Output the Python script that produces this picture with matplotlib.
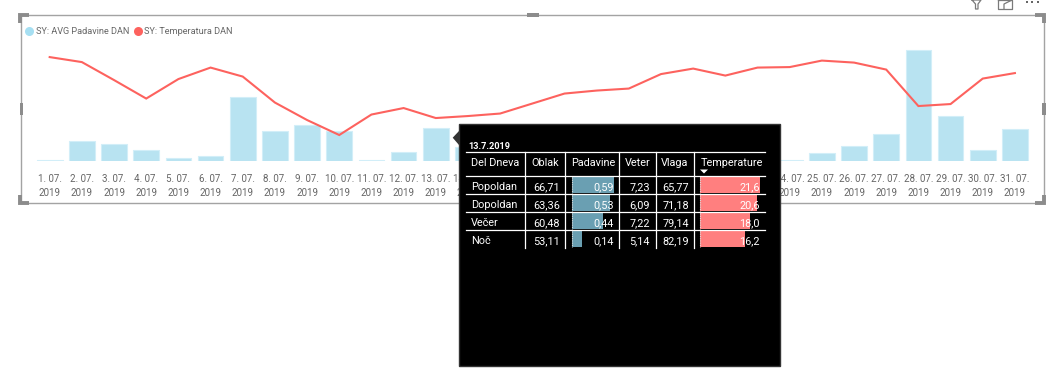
import matplotlib
matplotlib.use('Agg')
import matplotlib.pyplot as plt
from matplotlib.patches import Rectangle, Polygon

W, H = 1062, 370
plt.rcParams['font.family'] = ['Roboto', 'DejaVu Sans']

# Daily values, days 15-23 of the rain series sit behind the tooltip (estimated)
days = list(range(1, 32))
# labels of days 15-23 are fully covered by the tooltip in the reference
day_labels = [f'{d}. 07.\n2019' if d < 15 or d > 23 else '' for d in days]
rain = [0.02, 0.26, 0.22, 0.15, 0.04, 0.07, 0.83, 0.39, 0.47, 0.39, 0.02, 0.12, 0.425, 0.18,
        0.10, 0.10, 0.10, 0.10, 0.10, 0.10, 0.10, 0.10, 0.10,
        0.02, 0.11, 0.20, 0.35, 1.43, 0.58, 0.14, 0.42]
temp = [31.3, 30.3, 26.7, 23.0, 26.9, 29.2, 27.4, 22.2, 18.7, 15.7, 19.8, 21.1, 19.1, 19.5, 20.0, 22.0,
        24.0, 24.6, 25.0, 27.9, 29.0, 27.6, 29.2, 29.3, 30.6, 30.2, 28.8, 21.5, 21.9, 27.0, 28.1]

# Tooltip table
tip_date = '13.7.2019'
tip_columns = ['Del Dneva', 'Oblak', 'Padavine', 'Veter', 'Vlaga', 'Temperature']
tip_rows = ['Popoldan', 'Dopoldan', 'Večer', 'Noč']
tip_oblak = ['66,71', '63,36', '60,48', '53,11']
tip_padavine = [0.59, 0.53, 0.44, 0.14]
tip_veter = ['7,23', '6,09', '7,22', '5,14']
tip_vlaga = ['65,77', '71,18', '79,14', '82,19']
tip_temp = [21.6, 20.6, 18.0, 16.2]

LIGHT_BLUE = '#B8E3F1'
RED = '#FD625E'
GREY_TEXT = '#666666'
FRAME = '#A3A3A3'
TXT = 7.8


def px_axes(x0, y0, x1, y1, z):
    # axes placed by pixel box, y measured from the top of the image
    ax = fig.add_axes([x0 / W, 1 - y1 / H, (x1 - x0) / W, (y1 - y0) / H], zorder=z)
    ax.patch.set_alpha(0)
    return ax


fig = plt.figure(figsize=(W / 100, H / 100), dpi=100, facecolor='white')

# main chart
ax = px_axes(33.6, 45, 1031, 161.3, 1)
ax.bar(days, rain, width=0.8, color=LIGHT_BLUE, edgecolor='#D2EEF8', linewidth=0.8)
ax.set_xlim(0.5, 31.5)
ax.set_ylim(0, 1.5)
ax.set_yticks([])
ax.set_xticks(days)
ax.set_xticklabels(day_labels, fontsize=7, color=GREY_TEXT, linespacing=1.4)
ax.tick_params(axis='x', length=0, pad=9.5)
for s in ax.spines.values():
    s.set_visible(False)

ax2 = ax.twinx()
ax2.plot(days, temp, color=RED, linewidth=1.5, solid_joinstyle='miter')
ax2.set_ylim(10.44, 33.72)
ax2.set_yticks([])
for s in ax2.spines.values():
    s.set_visible(False)

# frame, legend, icons and tooltip background in pixel coordinates
ov = px_axes(0, 0, W, H, 5)
ov.set_xlim(0, W)
ov.set_ylim(H, 0)
ov.axis('off')

ov.add_patch(Rectangle((20.5, 14.5), 1023.5, 188.5, fill=False, edgecolor=FRAME, linewidth=1))
handle = '#8C8C8C'
for xs, ys in [([20, 20, 29], [23, 15, 15]), ([1035, 1044, 1044], [15, 15, 23]),
               ([20, 20, 29], [195, 203, 203]), ([1035, 1044, 1044], [203, 203, 195])]:
    ov.plot(xs, ys, color=handle, linewidth=2.8, solid_capstyle='butt', solid_joinstyle='miter')
ov.add_patch(Rectangle((19.5, 103), 3.5, 12, color=handle, linewidth=0))
ov.add_patch(Rectangle((1042, 103), 3.5, 12, color=handle, linewidth=0))
ov.add_patch(Rectangle((527, 13), 12, 3.5, color=handle, linewidth=0))
ov.add_patch(Rectangle((527, 201.5), 12, 3.5, color=handle, linewidth=0))

ov.plot([29.3], [30.7], 'o', color='#A6DFF2', markersize=6.5, markeredgewidth=0)
ov.text(35.7, 30.2, 'SY: AVG Padavine DAN', fontsize=6.6, color=GREY_TEXT, va='center_baseline')
ov.plot([138.3], [30.7], 'o', color=RED, markersize=6.5, markeredgewidth=0)
ov.text(144.3, 30.2, 'SY: Temperatura DAN', fontsize=6.6, color=GREY_TEXT, va='center_baseline')

# icons clipped by the top of the image
icon = '#7A7A7A'
ov.plot([972, 981, 978, 978, 975.5, 975.5, 972], [0, 0, 4, 9, 9, 4, 0], color=icon, linewidth=0.9)
ov.plot([998, 998, 1012, 1012, 998], [0, 8.5, 8.5, 0, 0], color=icon, linewidth=0.9)
ov.plot([1004, 1004, 1012], [8.5, 4, 0], color=icon, linewidth=0.9)
ov.plot([1026.5, 1032, 1037.5], [2, 2, 2], 's', color='#666666', markersize=1.6, markeredgewidth=0)

ov.add_patch(Polygon([(452.7, 137.7), (459, 131), (459, 145)], color='#333333', linewidth=0))
ov.add_patch(Rectangle((459, 124), 321, 241.5, facecolor='black', edgecolor='#333333', linewidth=1))

# data bars inside the tooltip
bar_h = 0.86
pad_ax = px_axes(571.7, 176, 614, 248, 6)
pad_ax.barh(range(4), tip_padavine, height=bar_h, color='#6A9FB2')
pad_ax.set_xlim(0, 0.59)
pad_ax.set_ylim(3.5, -0.5)
pad_ax.axis('off')

temp_ax = px_axes(700.3, 176, 760, 248, 6)
temp_ax.barh(range(4), tip_temp, height=bar_h, color='#FF7F7F')
temp_ax.set_xlim(0, 21.6)
temp_ax.set_ylim(3.5, -0.5)
temp_ax.axis('off')

# table lines and text on top of the bars
top = px_axes(0, 0, W, H, 7)
top.set_xlim(0, W)
top.set_ylim(H, 0)
top.axis('off')

for y in [152.3, 176, 194, 212, 230]:
    top.plot([466, 765], [y, y], color='white', linewidth=0.9)
for x in [525.3, 565.3, 619.3, 655.7, 694.3]:
    top.plot([x, x], [152.3, 247.7], color='white', linewidth=0.9)
for x in [571.5, 700.1]:
    for y0 in [177.3, 195.3, 213.3, 231.3]:
        top.plot([x, x], [y0, y0 + 15.4], color='#D8D8D8', linewidth=0.8, linestyle=(0, (1, 1)))

top.text(468, 145.7, tip_date, color='white', fontsize=6.6, fontweight='bold', va='center_baseline')
for x, name in zip([471.3, 531, 571.3, 625, 661, 700.3], tip_columns):
    top.text(x, 162.3, name, color='white', fontsize=TXT, va='center_baseline')
top.add_patch(Polygon([(700, 169.5), (708, 169.5), (704, 173.5)], color='white', linewidth=0))

for i, y in enumerate([186, 204, 222, 240]):
    top.text(471.3, y, tip_rows[i], color='white', fontsize=TXT, va='center_baseline')
    top.text(559.7, y, tip_oblak[i], color='white', fontsize=TXT, va='center_baseline', ha='right')
    top.text(614, y, f'{tip_padavine[i]:.2f}'.replace('.', ','), color='white', fontsize=TXT, va='center_baseline', ha='right')
    top.text(650, y, tip_veter[i], color='white', fontsize=TXT, va='center_baseline', ha='right')
    top.text(689, y, tip_vlaga[i], color='white', fontsize=TXT, va='center_baseline', ha='right')
    top.text(760, y, f'{tip_temp[i]:.1f}'.replace('.', ','), color='white', fontsize=TXT, va='center_baseline', ha='right')

fig.savefig('out.png', dpi=100, facecolor='white')
